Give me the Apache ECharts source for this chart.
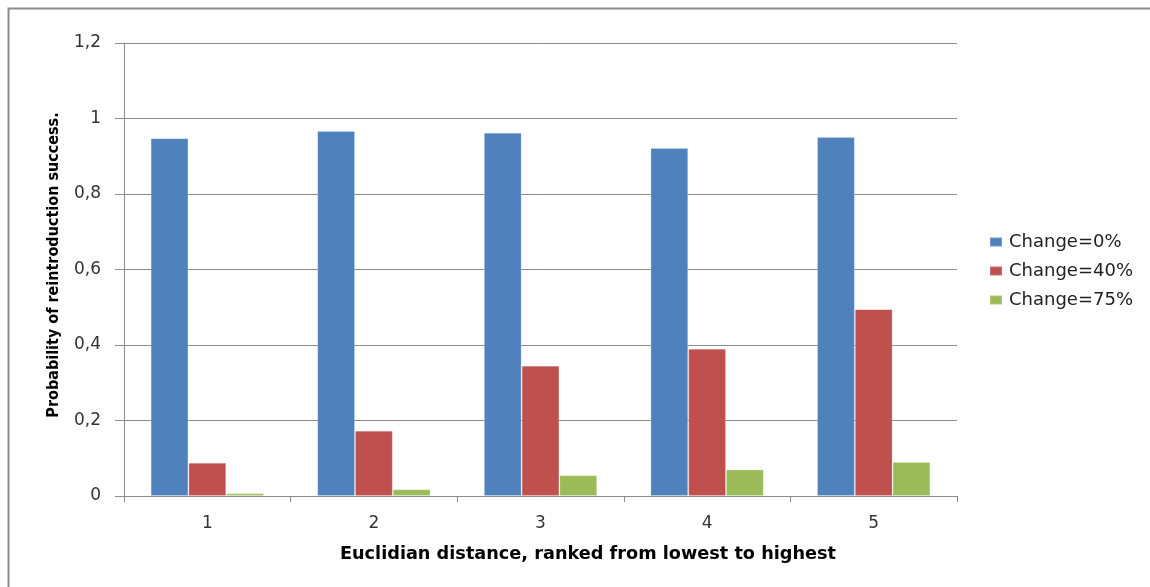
<!DOCTYPE html>
<html>
<head>
<meta charset="utf-8">
<title>Probability of reintroduction success</title>
<script src="https://cdn.jsdelivr.net/npm/echarts@6/dist/echarts.min.js"></script>
<style>
  html, body { margin: 0; padding: 0; background: #ffffff; }
  #chart { width: 1150px; height: 587px; }
</style>
</head>
<body>
<div id="chart"></div>
<script>
// Distance ranks on the x axis
const categories = ['1', '2', '3', '4', '5'];

// Series names and probabilities of success per rank
const seriesNames = ['Change=0%', 'Change=40%', 'Change=75%'];
const change0 = [0.948, 0.967, 0.962, 0.922, 0.951];
const change40 = [0.088, 0.173, 0.345, 0.390, 0.495];
const change75 = [0.007, 0.018, 0.055, 0.070, 0.090];

// Y axis scale
const yMin = 0;
const yMax = 1.2;
const yStep = 0.2;

const xTitle = 'Euclidian distance, ranked from lowest to highest';
const yTitle = 'Probability of reintroduction success.';

const colors = ['#4F81BD', '#C0504D', '#9BBB59'];
const values = [change0, change40, change75];

const chart = echarts.init(document.getElementById('chart'), null, { renderer: 'canvas' });

const fontFamily = "'DejaVu Sans', 'Liberation Sans', sans-serif";

chart.setOption({
  animation: false,
  backgroundColor: '#ffffff',
  color: colors,
  grid: { left: 124, top: 43, right: 193, bottom: 91, containLabel: false },
  legend: {
    orient: 'vertical',
    left: 989,
    top: 232,
    padding: 0,
    icon: 'rect',
    itemWidth: 12,
    itemHeight: 9,
    itemGap: 9,
    textStyle: { fontFamily: fontFamily, fontSize: 18, color: '#222222', lineHeight: 20, padding: [0, 0, 0, 2] },
    data: seriesNames
  },
  xAxis: {
    type: 'category',
    data: categories,
    axisLine: { show: true, lineStyle: { color: '#8c8c8c', width: 1 } },
    axisTick: { show: true, length: 6, alignWithLabel: false, lineStyle: { color: '#8c8c8c' } },
    axisLabel: { margin: 19, fontFamily: fontFamily, fontSize: 17, color: '#333333' },
    splitLine: { show: false }
  },
  yAxis: {
    type: 'value',
    min: yMin,
    max: yMax,
    interval: yStep,
    axisLine: { show: true, lineStyle: { color: '#8c8c8c', width: 1 } },
    axisTick: { show: true, length: 9, lineStyle: { color: '#8c8c8c' } },
    axisLabel: {
      margin: 23,
      fontFamily: fontFamily,
      fontSize: 17,
      color: '#333333',
      formatter: function (v) { return String(Math.round(v * 10) / 10).replace('.', ','); }
    },
    splitLine: { show: true, lineStyle: { color: '#8c8c8c', width: 1 } }
  },
  series: seriesNames.map(function (name, i) {
    return {
      name: name,
      type: 'bar',
      data: values[i],
      barGap: '0%',
      barCategoryGap: '32%',
      itemStyle: { color: colors[i], borderColor: 'rgba(255,255,255,0.18)', borderWidth: 1 }
    };
  }),
  graphic: [
    {
      // outer chart frame
      type: 'rect',
      left: 6,
      top: 6,
      shape: { x: 0, y: 0, width: 1200, height: 700 },
      style: { fill: 'none', stroke: '#8c8c8c', lineWidth: 2 },
      silent: true
    },
    {
      type: 'text',
      x: 588,
      y: 554,
      style: {
        text: xTitle,
        textAlign: 'center',
        textVerticalAlign: 'middle',
        font: "bold 17.7px 'DejaVu Sans', 'Liberation Sans', sans-serif",
        fill: '#000000'
      }
    },
    {
      type: 'text',
      x: 54,
      y: 265,
      rotation: Math.PI / 2,
      style: {
        text: yTitle,
        textAlign: 'center',
        textVerticalAlign: 'middle',
        font: "bold 16px 'DejaVu Sans Condensed', 'Liberation Sans', sans-serif",
        fill: '#000000'
      }
    }
  ]
});
</script>
</body>
</html>
